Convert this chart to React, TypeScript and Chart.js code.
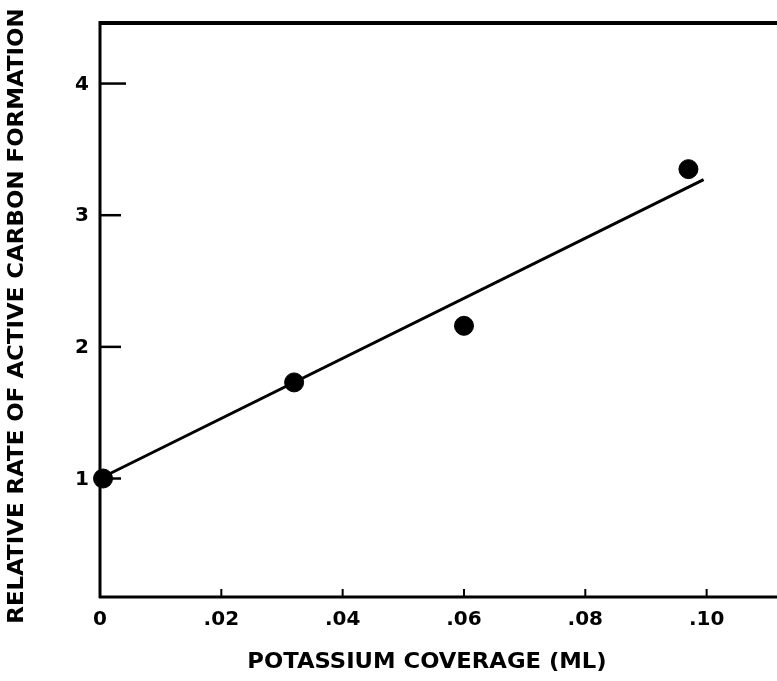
import React, { useEffect, useRef } from "react";
import { Chart, registerables } from "chart.js";

Chart.register(...registerables);

// Potassium coverage (monolayers) and relative rate of active carbon formation
const coverage = [0.0005, 0.032, 0.06, 0.097];
const relativeRate = [1.0, 1.73, 2.16, 3.35];

// Least-squares line through the measurements
const fitCoverage = [0, 0.0995];
const fitRate = [1.0, 3.27];

const xTickValues = [0, 0.02, 0.04, 0.06, 0.08, 0.1];
const xTickLabels = ["0", ".02", ".04", ".06", ".08", ".10"];
const yTickValues = [1, 2, 3, 4];
const yTickLabels = ["1", "2", "3", "4"];

const xTitle = "POTASSIUM COVERAGE (ML)";
const yTitle = "RELATIVE RATE OF ACTIVE CARBON FORMATION";

const FONT = "'DejaVu Sans', 'Liberation Sans', sans-serif";

const framePlugin = {
  id: "frame",
  beforeDatasetsDraw(chart: any) {
    const { ctx, chartArea, scales } = chart;
    const { left, top, right, bottom } = chartArea;
    ctx.save();
    ctx.strokeStyle = "#000";
    ctx.lineCap = "butt";
    // top border
    ctx.lineWidth = 4;
    ctx.beginPath();
    ctx.moveTo(left - 1, top);
    ctx.lineTo(right, top);
    ctx.stroke();
    // left axis
    ctx.lineWidth = 3;
    ctx.beginPath();
    ctx.moveTo(left, top - 2);
    ctx.lineTo(left, bottom + 1);
    ctx.stroke();
    // bottom axis
    ctx.beginPath();
    ctx.moveTo(left - 1, bottom);
    ctx.lineTo(right, bottom);
    ctx.stroke();
    // y ticks, pointing inward
    ctx.lineWidth = 2.5;
    yTickValues.forEach((v) => {
      const y = scales.y.getPixelForValue(v);
      const len = v === 4 ? 26 : 21;
      ctx.beginPath();
      ctx.moveTo(left, y);
      ctx.lineTo(left + len, y);
      ctx.stroke();
    });
    // x ticks, short and inward
    ctx.lineWidth = 2;
    xTickValues.slice(1).forEach((v) => {
      const x = scales.x.getPixelForValue(v);
      ctx.beginPath();
      ctx.moveTo(x, bottom);
      ctx.lineTo(x, bottom - 8);
      ctx.stroke();
    });

    // tick labels
    ctx.fillStyle = "#000";
    ctx.font = `bold 20px ${FONT}`;
    ctx.textBaseline = "middle";
    ctx.textAlign = "center";
    xTickValues.forEach((v, i) => {
      ctx.fillText(xTickLabels[i], scales.x.getPixelForValue(v), bottom + 23);
    });
    ctx.textAlign = "right";
    yTickValues.forEach((v, i) => {
      ctx.fillText(yTickLabels[i], left - 11, scales.y.getPixelForValue(v) + 1);
    });
    ctx.restore();
  },
  afterDraw(chart: any) {
    const { ctx } = chart;
    ctx.save();
    ctx.fillStyle = "#000";
    ctx.textAlign = "center";
    ctx.textBaseline = "middle";
    ctx.font = `bold 21px ${FONT}`;
    ctx.save();
    ctx.translate(427, 663);
    ctx.scale(1.08, 1);
    ctx.fillText(xTitle, 0, 0);
    ctx.restore();
    ctx.translate(18, 316);
    ctx.rotate(-Math.PI / 2);
    ctx.scale(1.09, 1);
    ctx.fillText(yTitle, 0, 0);
    ctx.restore();
  },
};

export default function App() {
  const canvasRef = useRef<HTMLCanvasElement | null>(null);

  useEffect(() => {
    if (!canvasRef.current) return;
    const chart = new Chart(canvasRef.current, {
      type: "scatter",
      data: {
        datasets: [
          {
            type: "line",
            data: fitCoverage.map((x, i) => ({ x, y: fitRate[i] })),
            borderColor: "#000",
            borderWidth: 3,
            pointRadius: 0,
            fill: false,
            clip: false,
          } as any,
          {
            type: "scatter",
            data: coverage.map((x, i) => ({ x, y: relativeRate[i] })),
            backgroundColor: "#000",
            borderColor: "#000",
            pointRadius: 9.5,
            pointHoverRadius: 9.5,
            clip: false,
          } as any,
        ],
      },
      options: {
        responsive: false,
        animation: false,
        events: [],
        layout: { autoPadding: false, padding: { top: 23, right: 0, left: 0, bottom: 0 } },
        plugins: {
          legend: { display: false },
          tooltip: { enabled: false },
        },
        scales: {
          x: {
            type: "linear",
            min: 0,
            max: 0.1116,
            grid: { display: false, drawTicks: false },
            border: { display: false },
            ticks: { display: false },
            afterFit: (scale: any) => {
              scale.height = 84;
            },
          },
          y: {
            type: "linear",
            min: 0.1,
            max: 4.46,
            grid: { display: false, drawTicks: false },
            border: { display: false },
            ticks: { display: false },
            afterFit: (scale: any) => {
              scale.width = 100;
            },
          },
        },
      },
      plugins: [framePlugin],
    });
    return () => chart.destroy();
  }, []);

  return (
    <div style={{ position: "fixed", left: 0, top: 0, width: 777, height: 681, background: "#fff" }}>
      <canvas ref={canvasRef} width={777} height={681} style={{ width: 777, height: 681 }} />
    </div>
  );
}
